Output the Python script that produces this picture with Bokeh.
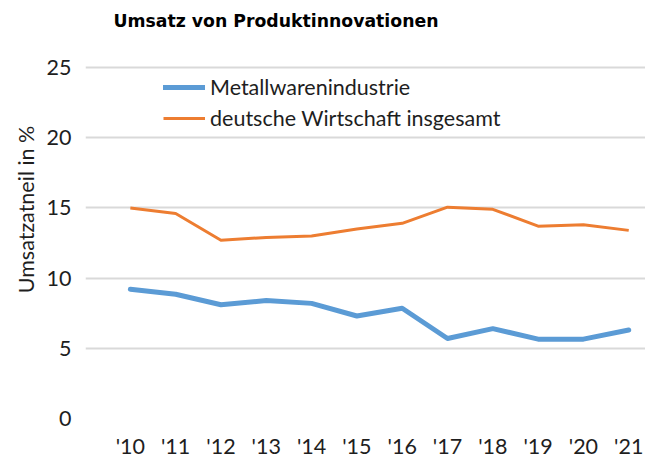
from bokeh.plotting import figure
from bokeh.models import Range1d, Legend, LegendItem, FixedTicker, Label
from bokeh.embed import file_html
from bokeh.resources import INLINE

title_text = "Umsatz von Produktinnovationen"
years = ["'10", "'11", "'12", "'13", "'14", "'15", "'16", "'17", "'18", "'19", "'20", "'21"]
metallwaren = [9.2, 8.85, 8.1, 8.4, 8.2, 7.3, 7.85, 5.7, 6.4, 5.65, 5.65, 6.3]
deutsche = [15.0, 14.6, 12.7, 12.9, 13.0, 13.5, 13.9, 15.05, 14.9, 13.7, 13.8, 13.4]
y_ticks = [0, 5, 10, 15, 20, 25]

x = list(range(len(years)))

FONT = "Lato"
FS = "21.5px"
TXT = "#1e1e1e"

# frame spans the full top so that the title can sit inside it; 25 lies 67px below the top
p = figure(frame_width=560, frame_height=418, output_backend="svg", toolbar_location=None,
           x_range=Range1d(-0.99, 11.37), y_range=Range1d(0, 25 * 418 / 351),
           min_border_left=85, min_border_right=0, min_border_top=0, min_border_bottom=37)

title = Label(x=28, y=398, x_units="screen", y_units="screen", text=title_text,
              text_font="DejaVu Sans", text_font_style="bold", text_font_size="17.3px",
              text_color="#000000", text_baseline="middle", text_align="left")
p.add_layout(title)

p.outline_line_color = None
p.background_fill_color = "white"
p.border_fill_color = "white"

r1 = p.line(x, metallwaren, line_color="#5B9BD5", line_width=5, line_join="round", line_cap="round")
r2 = p.line(x, deutsche, line_color="#ED7D31", line_width=3, line_join="round")

p.xaxis.ticker = FixedTicker(ticks=x)
p.xaxis.major_label_overrides = {i: y for i, y in zip(x, years)}
p.yaxis.ticker = FixedTicker(ticks=y_ticks)
for ax in (p.xaxis, p.yaxis):
    ax.axis_line_color = None
    ax.major_tick_line_color = None
    ax.minor_tick_line_color = None
    ax.major_label_text_font = FONT
    ax.major_label_text_font_size = FS
    ax.major_label_text_color = TXT
p.xaxis.major_label_standoff = 8
p.yaxis.major_label_standoff = 8
p.yaxis.axis_label = "Umsatzatneil in %"
p.yaxis.axis_label_text_font = FONT
p.yaxis.axis_label_text_font_size = FS
p.yaxis.axis_label_text_font_style = "normal"
p.yaxis.axis_label_text_color = TXT
p.yaxis.axis_label_standoff = 5

p.xgrid.grid_line_color = None
p.ygrid.grid_line_color = "#D9D9D9"
p.ygrid.grid_line_width = 2

legend = Legend(items=[LegendItem(label="Metallwarenindustrie", renderers=[r1]),
                       LegendItem(label="deutsche Wirtschaft insgesamt", renderers=[r2])],
                location=(78, 287))
legend.glyph_width = 42
legend.glyph_height = 22
legend.label_height = 22
legend.spacing = 5
legend.label_standoff = 5
legend.padding = 0
legend.margin = 0
legend.border_line_color = None
legend.background_fill_alpha = 0
legend.label_text_font = FONT
legend.label_text_font_size = FS
legend.label_text_color = TXT
p.add_layout(legend, "center")

with open("out.html", "w") as f:
    f.write(file_html(p, INLINE))
